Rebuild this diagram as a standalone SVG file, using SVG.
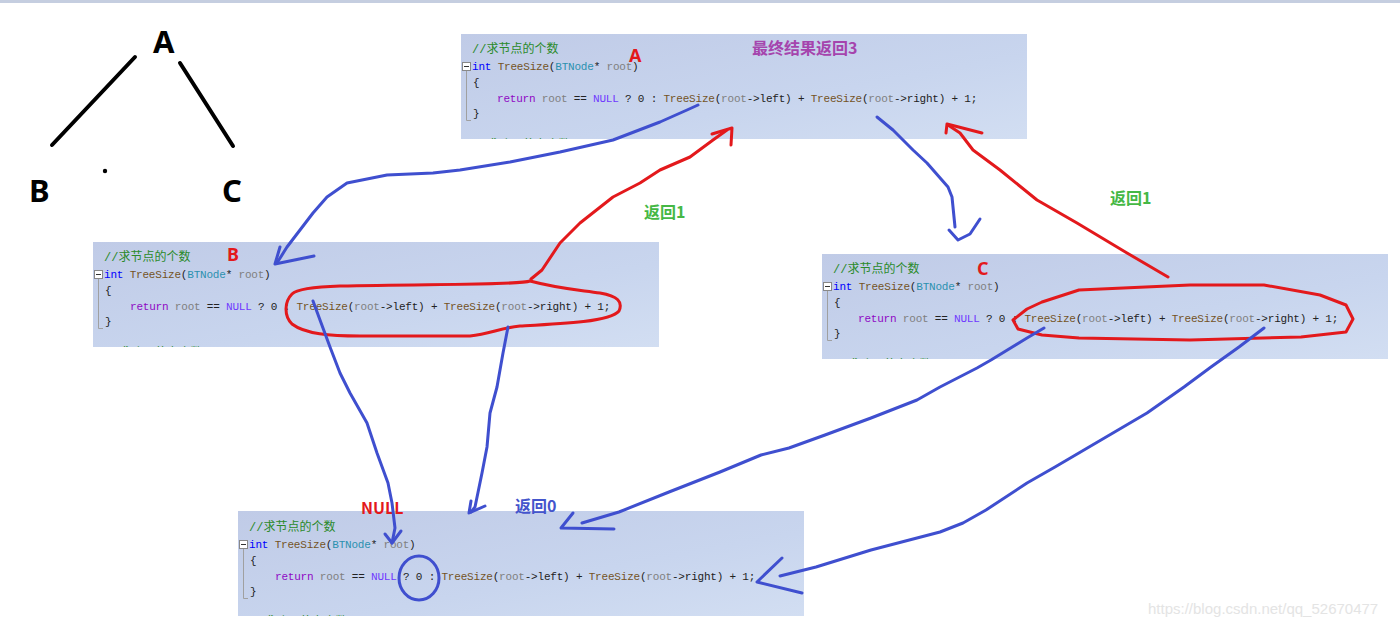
<svg xmlns="http://www.w3.org/2000/svg" width="1400" height="628" viewBox="0 0 1400 628">
<style>
.code{font-family:"Liberation Mono","Noto Sans CJK SC",monospace;font-size:11px;letter-spacing:-0.2px;fill:#222}
.cm{fill:#2a8a2a;font-size:12px;letter-spacing:0}
.kw{fill:#8f08c4}.ty{fill:#0000ff}.fn{fill:#74531f}.cl{fill:#2b91af}.pm{fill:#808080}.mac{fill:#6f38ff}
.guide{stroke:#a0a0a0;stroke-width:1;fill:none}
.tag{font-family:"Noto Sans","Liberation Sans",sans-serif;font-weight:bold;font-size:18px;fill:#e3191c}
.lbl{font-family:"Noto Sans CJK SC","Noto Sans",sans-serif;font-weight:bold;font-size:16px}
.tree{font-family:"Noto Sans","Liberation Sans",sans-serif;font-weight:bold;font-size:31px;fill:#000}
.blue{stroke:#3f4fcf;stroke-width:3;fill:none;stroke-linecap:round;stroke-linejoin:round}
.red{stroke:#e3191c;stroke-width:3;fill:none;stroke-linecap:round;stroke-linejoin:round}
</style>
<defs>
<linearGradient id="pg" x1="0" y1="0" x2="1" y2="1">
<stop offset="0" stop-color="#c0cbe7"/>
<stop offset="0.6" stop-color="#c8d5ee"/>
<stop offset="1" stop-color="#d2def2"/>
</linearGradient>
<clipPath id="pc"><rect x="0" y="0" width="566" height="105"/></clipPath>
</defs>
<rect x="0" y="0" width="1400" height="628" fill="#ffffff"/>
<rect x="0" y="0" width="1400" height="3" fill="#c5cee0"/>

<g id="tree">
<text class="tree" x="153" y="53">A</text>
<text class="tree" x="29" y="202">B</text>
<text class="tree" x="222" y="202">C</text>
<line x1="135" y1="57" x2="52" y2="145" stroke="#000" stroke-width="4" stroke-linecap="round"/>
<line x1="180" y1="63" x2="233" y2="146" stroke="#000" stroke-width="4" stroke-linecap="round"/>
<circle cx="105" cy="171" r="2.2" fill="#000"/>
</g>

<g id="panelA" transform="translate(461,34)">
<rect x="0" y="0" width="566" height="105" fill="url(#pg)"/>
<text class="code cm" x="11" y="19">//求节点的个数</text>
<rect x="1.5" y="28.5" width="8" height="8" fill="#fff" stroke="#888"/><line x1="3" y1="32.5" x2="8" y2="32.5" stroke="#333"/>
<path class="guide" d="M5.5 37V86.5H10"/>
<text class="code" x="11" y="36" xml:space="preserve"><tspan class="ty">int</tspan> <tspan class="fn">TreeSize</tspan>(<tspan class="cl">BTNode</tspan>* <tspan class="pm">root</tspan>)</text>
<text class="code" x="12" y="52">{</text>
<text class="code" x="36" y="68" xml:space="preserve"><tspan class="kw">return</tspan> <tspan class="pm">root</tspan> == <tspan class="mac">NULL</tspan> ? 0 : <tspan class="fn">TreeSize</tspan>(<tspan class="pm">root</tspan>-&gt;left) + <tspan class="fn">TreeSize</tspan>(<tspan class="pm">root</tspan>-&gt;right) + 1;</text>
<text class="code" x="12" y="83">}</text>
<text class="code cm" x="11" y="115" clip-path="url(#pc)">//求叶子节点个数</text>
<text class="tag" x="168" y="28">A</text>
</g>

<g id="panelB" transform="translate(93,242)">
<rect x="0" y="0" width="566" height="105" fill="url(#pg)"/>
<text class="code cm" x="11" y="19">//求节点的个数</text>
<rect x="1.5" y="28.5" width="8" height="8" fill="#fff" stroke="#888"/><line x1="3" y1="32.5" x2="8" y2="32.5" stroke="#333"/>
<path class="guide" d="M5.5 37V86.5H10"/>
<text class="code" x="11" y="36" xml:space="preserve"><tspan class="ty">int</tspan> <tspan class="fn">TreeSize</tspan>(<tspan class="cl">BTNode</tspan>* <tspan class="pm">root</tspan>)</text>
<text class="code" x="12" y="52">{</text>
<text class="code" x="37" y="68" xml:space="preserve"><tspan class="kw">return</tspan> <tspan class="pm">root</tspan> == <tspan class="mac">NULL</tspan> ? 0 : <tspan class="fn">TreeSize</tspan>(<tspan class="pm">root</tspan>-&gt;left) + <tspan class="fn">TreeSize</tspan>(<tspan class="pm">root</tspan>-&gt;right) + 1;</text>
<text class="code" x="12" y="83">}</text>
<text class="code cm" x="11" y="115" clip-path="url(#pc)">//求叶子节点个数</text>
<text class="tag" x="134" y="19">B</text>
</g>

<g id="panelC" transform="translate(822,254)">
<rect x="0" y="0" width="566" height="105" fill="url(#pg)"/>
<text class="code cm" x="11" y="19">//求节点的个数</text>
<rect x="1.5" y="28.5" width="8" height="8" fill="#fff" stroke="#888"/><line x1="3" y1="32.5" x2="8" y2="32.5" stroke="#333"/>
<path class="guide" d="M5.5 37V86.5H10"/>
<text class="code" x="11" y="36" xml:space="preserve"><tspan class="ty">int</tspan> <tspan class="fn">TreeSize</tspan>(<tspan class="cl">BTNode</tspan>* <tspan class="pm">root</tspan>)</text>
<text class="code" x="12" y="52">{</text>
<text class="code" x="36" y="68" xml:space="preserve"><tspan class="kw">return</tspan> <tspan class="pm">root</tspan> == <tspan class="mac">NULL</tspan> ? 0 : <tspan class="fn">TreeSize</tspan>(<tspan class="pm">root</tspan>-&gt;left) + <tspan class="fn">TreeSize</tspan>(<tspan class="pm">root</tspan>-&gt;right) + 1;</text>
<text class="code" x="12" y="83">}</text>
<text class="code cm" x="11" y="115" clip-path="url(#pc)">//求叶子节点个数</text>
<text class="tag" x="155" y="21">C</text>
</g>

<g id="panelD" transform="translate(238,511)">
<rect x="0" y="0" width="566" height="105" fill="url(#pg)"/>
<text class="code cm" x="11" y="20">//求节点的个数</text>
<rect x="1.5" y="29.5" width="8" height="8" fill="#fff" stroke="#888"/><line x1="3" y1="33.5" x2="8" y2="33.5" stroke="#333"/>
<path class="guide" d="M5.5 38V87.5H10"/>
<text class="code" x="11" y="37" xml:space="preserve"><tspan class="ty">int</tspan> <tspan class="fn">TreeSize</tspan>(<tspan class="cl">BTNode</tspan>* <tspan class="pm">root</tspan>)</text>
<text class="code" x="12" y="53">{</text>
<text class="code" x="37" y="69" xml:space="preserve"><tspan class="kw">return</tspan> <tspan class="pm">root</tspan> == <tspan class="mac">NULL</tspan> ? 0 : <tspan class="fn">TreeSize</tspan>(<tspan class="pm">root</tspan>-&gt;left) + <tspan class="fn">TreeSize</tspan>(<tspan class="pm">root</tspan>-&gt;right) + 1;</text>
<text class="code" x="12" y="84">}</text>
<text class="code cm" x="11" y="115" clip-path="url(#pc)">//求叶子节点个数</text>
</g>

<g id="labels">
<text class="lbl" x="752" y="54" fill="#a544ad">最终结果返回3</text>
<text class="lbl" x="644" y="218" fill="#45b845">返回1</text>
<text class="lbl" x="1110" y="204" fill="#45b845">返回1</text>
<text class="lbl" x="361" y="514" fill="#e3191c" font-family="Noto Sans,Liberation Sans,sans-serif">NULL</text>
<text class="lbl" x="515" y="512" fill="#4455cc">返回0</text>
</g>

<g id="connectors">
<path class="blue" d="M698 105L687 110L660 122L613 140L560 152L510 162L460 170L433 173L387 175L347 183L327 197L313 213L300 230L287 247L277 263"/>
<path class="blue" d="M280 247L275 264L314 256"/>
<path class="red" d="M531 279L542 270L560 243L580 223L613 197L640 183L660 170L690 157L713 140L727 130"/>
<path class="red" d="M712 134L732 128L731 145"/>
<path class="blue" d="M877 117L893 130L913 150L927 163L948 187L952 197L955 227"/>
<path class="blue" d="M949 230L958 240L970 234L980 219"/>
<path class="red" d="M1168 277L1127 253L1077 223L1037 200L1000 170L973 150L960 133L948 125"/>
<path class="red" d="M946 133L947 124L982 133"/>
<path class="red" d="M530 281C520 285 430 284 340 286C310 287 296 290 292 294C284 302 284 316 292 324C305 334 330 336 360 336L470 336C490 334 500 328 520 326C560 324 610 322 619 311C623 302 618 296 600 293C580 290 560 289 530 281"/>
<path class="red" d="M1042 302L1079 290L1190 285L1264 285L1320 295L1346 305L1353 319L1346 332L1301 337L1190 340L1079 338L1042 335L1018 329L1013 320L1027 309L1042 302"/>
<path class="blue" d="M313 301L320 320L330 347L340 373L350 393L367 423L377 453L388 483L392 503L395 528L392 543"/>
<path class="blue" d="M385 534L392 543L401 531"/>
<ellipse class="blue" cx="419" cy="578" rx="20" ry="22"/>
<path class="blue" d="M508 327L503 353L497 387L490 413L487 447L482 473L475 507L471 512"/>
<path class="blue" d="M471 501L469 513L485 506"/>
<path class="blue" d="M1044 328L1027 338L991 360L977 368L940 387L917 400L871 418L825 435L789 448L761 455L720 472L669 492L619 512L582 523"/>
<path class="blue" d="M573 513L561 528L614 529"/>
<path class="blue" d="M1264 328L1239 347L1211 367L1184 387L1147 413L1101 440L1055 467L1027 483L986 510L963 523L940 532L871 550L816 567L780 576"/>
<path class="blue" d="M782 558L757 582L802 593"/>
</g>

<text x="1148" y="614" font-family="Liberation Sans,sans-serif" font-size="15" fill="#e4e4e4">https://blog.csdn.net/qq_52670477</text>
</svg>
